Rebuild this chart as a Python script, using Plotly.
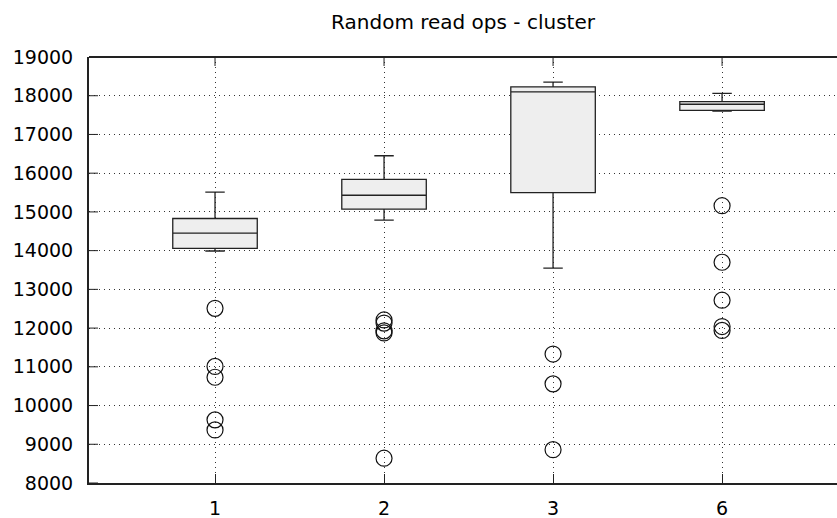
import plotly.graph_objects as go

categories = ["1", "2", "3", "6"]
q1 = [14060, 15070, 15500, 17620]
median = [14450, 15430, 18100, 17780]
q3 = [14830, 15840, 18230, 17850]
lower_whisker = [13990, 14790, 13550, 17600]
upper_whisker = [15510, 16450, 18350, 18060]
outliers = [
    [12510, 11010, 10730, 9630, 9370],
    [12210, 12130, 11930, 11875, 8640],
    [11330, 10560, 8860],
    [15160, 13700, 12720, 12040, 11940],
]
y_ticks = [8000, 9000, 10000, 11000, 12000, 13000, 14000, 15000, 16000, 17000, 18000, 19000]

FONT = "DejaVu Sans"
INK = "#222222"
pos = list(range(len(categories)))
X_RANGE = [-0.7456, 3.68]
W, H = 837, 518
ML, MR, MT, MB = 89, 0, 57, 35
TICK = 9

fig = go.Figure()
fig.add_trace(go.Box(
    x=pos, q1=q1, median=median, q3=q3,
    lowerfence=lower_whisker, upperfence=upper_whisker,
    width=0.5, whiskerwidth=0.23,
    fillcolor="#eeeeee",
    line=dict(color=INK, width=1.3),
    boxpoints=False, showlegend=False, hoverinfo="skip",
))

ox, oy = [], []
for i, vals in enumerate(outliers):
    for v in vals:
        ox.append(pos[i])
        oy.append(v)
fig.add_trace(go.Scatter(
    x=ox, y=oy, mode="markers",
    marker=dict(symbol="circle-open", size=16, color="#111111", line=dict(width=1.2)),
    showlegend=False,
))

plot_w = W - ML - MR
plot_h = H - MT - MB
shapes = [dict(type="line", xref="paper", yref="paper", x0=0, x1=1, y0=1, y1=1,
               line=dict(color=INK, width=2))]
for p in pos:
    shapes.append(dict(type="line", xref="x", yref="paper", x0=p, x1=p,
                       y0=1, y1=1 - TICK / plot_h, line=dict(color=INK, width=1)))
for v in y_ticks:
    shapes.append(dict(type="line", xref="paper", yref="y", x0=0, x1=TICK / plot_w,
                       y0=v, y1=v, line=dict(color=INK, width=1)))

fig.update_layout(
    width=W, height=H,
    margin=dict(l=ML, r=MR, t=MT, b=MB),
    paper_bgcolor="white", plot_bgcolor="white",
    font=dict(family=FONT, size=19, color="black"),
    title=dict(text="Random read ops - cluster", x=0.5, xref="paper", xanchor="center",
               y=1 - 22 / H, yref="container", yanchor="middle",
               font=dict(family=FONT, size=20, color="black")),
    shapes=shapes,
    xaxis=dict(
        range=X_RANGE, automargin=False,
        tickmode="array", tickvals=pos, ticktext=categories,
        showgrid=True, gridcolor="#333333", griddash="1px,4px", gridwidth=1,
        zeroline=False,
        showline=True, linecolor=INK, linewidth=2, mirror=False,
        ticks="inside", ticklen=TICK, tickcolor=INK, tickwidth=1,
        ticklabelstandoff=7,
        tickfont=dict(family=FONT, size=19, color="black"),
    ),
    yaxis=dict(
        range=[8000, 19000], automargin=False,
        tickmode="array", tickvals=y_ticks, ticktext=[str(v) for v in y_ticks],
        showgrid=True, gridcolor="#333333", griddash="1px,4px", gridwidth=1,
        zeroline=False,
        showline=True, linecolor=INK, linewidth=2, mirror=False,
        ticks="", ticklabelstandoff=10,
        tickfont=dict(family=FONT, size=19, color="black"),
    ),
)

fig.write_html("out.html")
